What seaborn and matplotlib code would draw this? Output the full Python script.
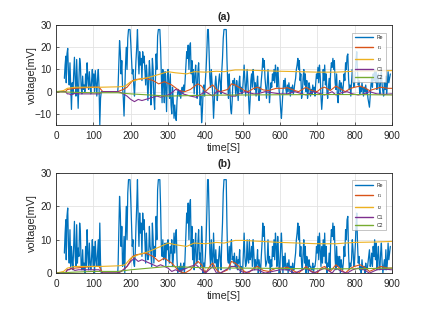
import matplotlib
matplotlib.use("Agg")
import matplotlib.pyplot as plt
import numpy as np
import pandas as pd
import seaborn as sns

# ---- data (top panel, signed values) ----
re_points = [
    (22, 6), (24, 12), (26, 16), (27, 4), (29, 17), (31, 19.5), (33, 8), (35, 3), (37, 13), (39, 2),
    (41, -8), (43, 4), (45, -1), (47, 8), (49, 15.5), (51, 5), (53, -2), (55, 14.5), (57, 3), (59, -7.5),
    (61, 5), (63, 15), (65, 12), (67, 2), (69, -1), (71, 7), (73, 1), (75, 3), (77, 0), (79, 8),
    (81, 2), (83, 13), (85, 6), (87, 1), (89, 9), (91, 3), (93, -1), (95, 5), (97, 10), (99, 2),
    (101, 8), (103, 0), (105, 9.5), (107, 4), (109, -2), (111, 6), (113, 10), (115, 2), (117, -15), (119, -3),
    (121, 0), (125, 0), (160, 0), (165, 0),
    (166, 2), (168, 12), (170, 23), (172, 18), (174, 8), (176, 14), (178, 2), (180, -3), (182, -11), (184, 0),
    (186, 12), (188, 20), (190, 10), (192, 24), (194, 28), (196, 28), (198, 28), (200, 22), (202, 15), (204, 8),
    (206, 10), (208, 3), (210, -2), (212, 6), (214, 14), (216, 20), (218, 28), (220, 16), (222, 8), (224, 18),
    (226, 12), (228, 15), (230, 5), (232, 18), (234, 13), (236, 16), (238, 9), (240, 3), (242, 12), (244, 6),
    (246, -4), (248, 5), (250, 14), (252, 8), (254, -6), (256, 2), (258, 15), (260, 10), (262, -3), (264, -8),
    (266, 5), (268, 17), (270, 10), (272, 25), (274, 28), (276, 28), (278, 28), (280, 20), (282, 8), (284, -5),
    (286, 10), (288, 4), (290, -5), (292, 9), (294, 2), (296, -9), (298, 7), (300, 10),
    (302, 4), (304, -3), (306, 8), (308, -6), (310, -10), (312, 2), (314, -4), (316, -12), (318, -6), (320, -11),
    (322, -13), (324, -4), (326, 0), (328, 1), (330, -2), (332, 0.5), (334, -3), (336, 0), (338, 2), (340, -1),
    (342, 3), (344, 0), (346, 6), (348, 12), (350, 18), (352, 15), (354, 21), (356, 10), (358, 20), (360, 22),
    (362, 8), (364, 14), (366, 4), (368, 10), (370, -1), (372, 7), (374, 12), (376, 3), (378, -3), (380, 9),
    (382, 13), (384, 4), (386, -6), (388, -2), (390, -14), (392, -9), (394, 0), (396, 3), (398, -2), (400, 5),
    (402, 10), (404, 18), (406, 28), (408, 28), (410, 18), (412, 6), (414, 2), (416, 10), (418, 4), (420, -2),
    (422, -12), (424, -5), (426, 3), (428, 7), (430, 2), (432, -4), (434, 0), (436, 5), (438, 8), (440, 4),
    (442, -1), (444, 9), (446, 15), (448, 24), (450, 28), (452, 28), (454, 28), (456, 28), (458, 14), (460, 4),
    (462, -3), (464, 8), (466, 1), (468, -8), (470, -10), (472, -4), (474, 5), (476, 3), (478, 6), (480, 2),
    (482, -2), (484, 5), (486, 1), (488, -4), (490, 3), (492, 7), (494, 0), (496, 2), (498, -1), (500, 1),
    (502, 6), (504, 12), (506, 5), (508, -2), (510, 3), (512, 10), (514, 4), (516, -3), (518, -10), (520, -4),
    (522, 5), (524, 8), (526, 2), (528, 10), (530, 6), (532, 1), (534, 4), (536, -2), (538, 3), (540, 7),
    (542, 0), (544, -4), (546, 2), (548, 0), (550, 5), (552, 9), (554, 15), (556, 11), (558, 14), (560, 6),
    (562, 2), (564, -3), (566, 4), (568, 10), (570, 3), (572, -5), (574, 0), (576, 4), (578, 2), (580, 8),
    (582, 5), (584, 10), (586, 4), (588, 12), (590, 8), (592, 2), (594, 11), (596, 6), (598, 0), (600, -2),
    (602, -8), (604, -12), (606, -6), (608, 0), (610, 5), (612, 2), (614, 6), (616, 1), (618, -1), (620, 3),
    (622, 0), (624, 4), (626, 1), (628, -2), (630, 2), (632, 0), (634, 3), (636, -1), (638, 1), (640, 4),
    (642, 6), (644, 10), (646, 12), (648, 15), (650, 10), (652, 14), (654, 5), (656, 8), (658, -3), (660, -1),
    (662, 6), (664, 10), (666, 3), (668, 8), (670, 0), (672, 5), (674, -3), (676, 0), (678, 4), (680, 2),
    (682, -2), (684, 1), (686, -1), (688, 3), (690, 0), (692, 2), (694, -2), (696, 4), (698, 8), (700, 6),
    (702, 11), (704, 4), (706, 12), (708, 7), (710, -2), (712, -8), (714, -3), (716, 10), (718, 5), (720, 12),
    (722, 3), (724, 8), (726, 0), (728, -3), (730, 2), (732, 6), (734, 1), (736, 9), (738, 13), (740, 11),
    (742, 15), (744, 10), (746, 14), (748, 4), (750, 1), (752, 8), (754, -2), (756, -5), (758, 2), (760, 5),
    (762, 0), (764, 4), (766, 2), (768, -1), (770, 3), (772, 8), (774, 5), (776, 13), (778, 10), (780, 16),
    (782, 17), (784, 6), (786, 1), (788, 3), (790, -2), (792, 4), (794, 10), (796, 7), (798, 2), (800, 4),
    (802, 8), (804, 14), (806, 18), (808, 9), (810, 3), (812, 5), (814, -1), (816, 2), (818, 0), (820, 4),
    (822, 1), (824, -2), (826, 2), (828, 0), (830, 3), (832, -1), (834, 1), (836, -3), (838, -5), (840, -7),
    (842, -2), (844, 3), (846, 6), (848, 2), (850, 8), (852, 5), (854, 10), (856, 4), (858, 9), (860, 1),
    (862, 5), (864, 8), (866, 2), (868, -1), (870, 6), (872, 9), (874, 3), (876, 0), (878, -2), (880, 4),
    (882, 1), (884, 7), (886, -1), (888, 3), (890, 9), (892, 4), (894, 6), (896, 8),
]

r1_points = [
    (0, 0), (25, 0), (30, 1), (50, 1.5), (80, 1.8), (100, 2), (115, 2), (125, 0), (165, 0), (180, 1),
    (190, 2), (205, 5), (215, 5.5), (240, 6), (260, 5), (275, 3.5), (290, 4.5), (310, 3), (330, 0.5),
    (345, 0), (360, 1), (375, 3), (380, 3.5), (390, 2.5), (400, 0), (415, 2.5), (420, 3), (430, 1),
    (440, 0), (460, 1), (470, 3.5), (480, 3), (490, 2), (505, 0.5), (515, 0), (530, 1.5), (540, 2),
    (555, 0.8), (570, 0.5), (590, 1.5), (610, 1.5), (620, 1.8), (640, 0.5), (650, 0), (665, 1.5),
    (670, 2), (685, 0.5), (700, 0), (710, 1.5), (720, 2), (735, 0.5), (750, 2.5), (765, 1), (775, 0),
    (790, 1.5), (800, 2), (815, 2.5), (830, 1.5), (840, 0.5), (860, 1.5), (870, 2), (890, 1.5), (900, 1.5),
]

r2_points = [
    (0, 0), (20, 0.5), (30, 1.5), (50, 2), (100, 2), (120, 2), (170, 2.2), (185, 2.5), (200, 4.5),
    (220, 5.5), (250, 6.5), (280, 8), (300, 9), (320, 8.5), (350, 8), (370, 9), (400, 8.8), (430, 9.2),
    (450, 9), (480, 9.8), (500, 9.8), (550, 9.5), (600, 9.2), (650, 9), (700, 8.8), (750, 8.8),
    (800, 9.2), (850, 9.3), (900, 9.5),
]

c1_points = [
    (0, 0), (25, 0), (30, -1), (35, -1), (40, -1.5), (50, -0.8), (60, -1), (80, -1), (115, -1),
    (125, 0), (165, 0), (175, -0.5), (190, -2), (200, -3.5), (210, -4.5), (220, -3.5), (230, -4),
    (250, -3), (270, -2), (280, -2.5), (300, -1.5), (310, -0.5), (320, 1), (330, 0.5), (340, -1),
    (360, -2), (375, -2.5), (385, -1.5), (400, 0), (415, -1.5), (420, -2), (430, 0), (440, 0),
    (470, -2), (480, -2), (490, -1), (505, 0), (530, -1), (540, -1), (560, 0), (580, -0.5),
    (600, -1), (620, -1), (640, 0), (660, -1), (670, -1.5), (690, 0), (710, -1), (720, -1.5),
    (740, 0), (750, -1.5), (765, -0.5), (780, 0), (795, -1), (810, -1.5), (825, -1), (840, 0),
    (860, -1), (880, -1.2), (900, -1),
]

c2_points = [
    (0, 0), (50, -0.3), (100, -0.5), (165, -0.5), (200, -1), (250, -1.5), (300, -2), (350, -1.8),
    (400, -1.6), (500, -1.5), (600, -1.4), (700, -1.3), (800, -1.3), (900, -1.5),
]

series_names = ["Re", "r$_1$", "r$_2$", "C1", "C2"]
series_colors = ["#0072BD", "#D95319", "#EDB120", "#7E2F8E", "#77AC30"]
panel_titles = ["(a)", "(b)"]


def to_frame(points):
    t, v = zip(*points)
    return pd.DataFrame({"time": np.array(t, float), "volt": np.array(v, float)})


frames = [to_frame(p) for p in [re_points, r1_points, r2_points, c1_points, c2_points]]

sns.set_theme(style="whitegrid")
plt.rcParams["font.family"] = ["Liberation Sans", "DejaVu Sans"]
plt.rcParams.update({
    "axes.edgecolor": "#262626",
    "axes.linewidth": 0.6,
    "grid.color": "#e3e3e3",
    "grid.linewidth": 0.6,
    "xtick.direction": "in",
    "ytick.direction": "in",
    "xtick.major.size": 2,
    "ytick.major.size": 2,
    "xtick.major.width": 0.5,
    "ytick.major.width": 0.5,
    "xtick.bottom": True,
    "ytick.left": True,
})

fig = plt.figure(figsize=(4.32, 3.10), dpi=100)
ax_a = fig.add_axes([0.130, 0.597, 0.777, 0.322])
ax_b = fig.add_axes([0.130, 0.119, 0.777, 0.323])

for ax, title, signed in [(ax_a, panel_titles[0], True), (ax_b, panel_titles[1], False)]:
    for df, name, col in zip(frames, series_names, series_colors):
        y = df["volt"] if signed else df["volt"].abs()
        lw = 0.9 if name == "Re" else 0.8
        sns.lineplot(x=df["time"], y=y, ax=ax, color=col, lw=lw, label=name,
                     sort=False, estimator=None)
    ax.set_xlim(0, 900)
    ax.set_xticks(range(0, 901, 100))
    if signed:
        ax.set_ylim(-15, 30)
        ax.set_yticks([-10, 0, 10, 20, 30])
    else:
        ax.set_ylim(0, 30)
        ax.set_yticks([0, 10, 20, 30])
    ax.tick_params(axis="x", labelsize=7.2, pad=4.2, colors="#262626")
    ax.tick_params(axis="y", labelsize=7.2, pad=3, colors="#262626")
    ax.set_xlabel("time[S]", fontsize=7.8, labelpad=1.5)
    ax.set_ylabel("voltage[mV]", fontsize=7.8)
    ax.yaxis.set_label_coords(-0.058, 0.5)
    ax.set_title(title, fontsize=7.7, fontweight="bold", pad=4)
    for s in ax.spines.values():
        s.set_visible(True)
        s.set_color("#262626")
        s.set_linewidth(0.6)
    leg = ax.legend(loc="upper right", bbox_to_anchor=(0.99, 0.95), fontsize=3.6,
                    frameon=True, fancybox=False, handlelength=3.6, handletextpad=0.8,
                    borderpad=0.5, labelspacing=0.6, edgecolor="#999999")
    leg.get_frame().set_linewidth(0.5)
    for h in leg.get_lines():
        h.set_linewidth(1.0)

fig.savefig("out.png", dpi=100, facecolor="white")
